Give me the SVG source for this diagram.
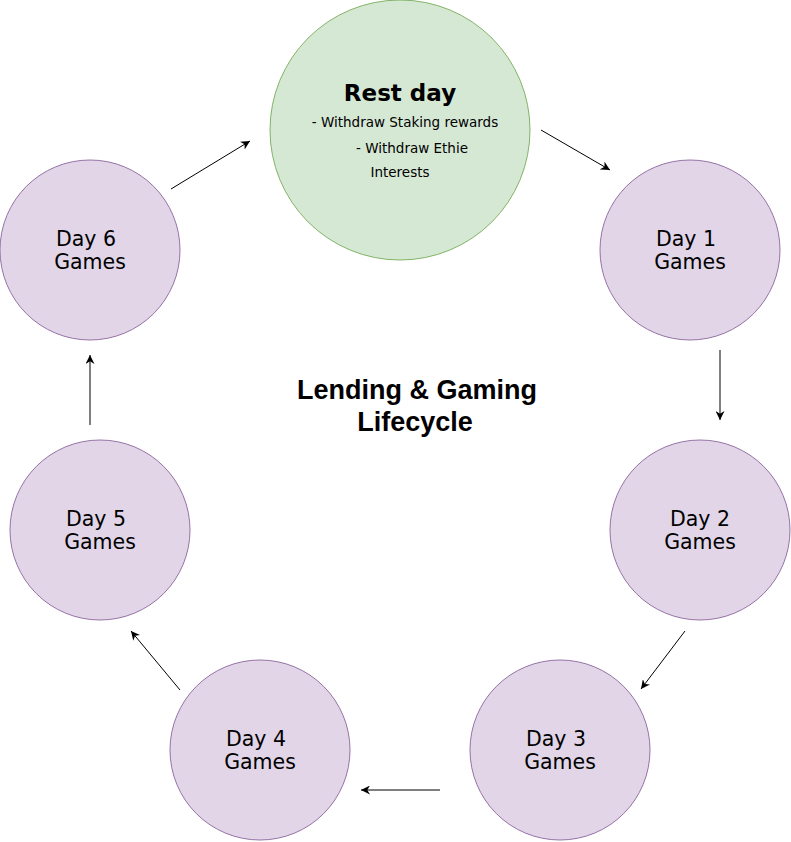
<svg xmlns="http://www.w3.org/2000/svg" width="791" height="842" viewBox="0 0 791 842">
<style>
.day{fill:#e1d5e7;stroke:#9673a6;stroke-width:1}
.rest{fill:#d5e8d4;stroke:#82b366;stroke-width:1}
.lbl{font-family:"DejaVu Sans",Verdana,sans-serif;font-size:20.5px;fill:#000;text-anchor:middle}
.sm{font-family:"DejaVu Sans",Verdana,sans-serif;font-size:13.5px;fill:#000;text-anchor:middle}
.rt{font-family:"DejaVu Sans",Verdana,sans-serif;font-size:23px;font-weight:bold;fill:#000;text-anchor:middle}
.ttl{font-family:"Liberation Sans",Arial,sans-serif;font-size:27px;font-weight:bold;fill:#000;text-anchor:middle}
.conn line{stroke:#000;stroke-width:1;marker-end:url(#ah)}
</style>
<defs>
<marker id="ah" viewBox="0 0 10 10" refX="10" refY="5" markerWidth="9" markerHeight="9" markerUnits="userSpaceOnUse" orient="auto">
<path d="M0,0 L10,5 L0,10 L3,5 z" fill="#000"/>
</marker>
</defs>
<rect width="791" height="842" fill="#fff"/>
<g id="rest">
<circle class="rest" cx="400" cy="130" r="130"/>
<text class="rt" x="400" y="101">Rest day</text>
<text class="sm" x="405" y="127">- Withdraw Staking rewards</text>
<text class="sm" x="412" y="153">- Withdraw Ethie</text>
<text class="sm" x="400" y="177">Interests</text>
</g>
<g id="day1">
<circle class="day" cx="690" cy="250" r="90"/>
<text class="lbl" x="686" y="246">Day 1</text>
<text class="lbl" x="690" y="269">Games</text>
</g>
<g id="day2">
<circle class="day" cx="700" cy="530" r="90"/>
<text class="lbl" x="700" y="526">Day 2</text>
<text class="lbl" x="700" y="549">Games</text>
</g>
<g id="day3">
<circle class="day" cx="560" cy="750" r="90"/>
<text class="lbl" x="556" y="746">Day 3</text>
<text class="lbl" x="560" y="769">Games</text>
</g>
<g id="day4">
<circle class="day" cx="260" cy="750" r="90"/>
<text class="lbl" x="256" y="746">Day 4</text>
<text class="lbl" x="260" y="769">Games</text>
</g>
<g id="day5">
<circle class="day" cx="100" cy="530" r="90"/>
<text class="lbl" x="96" y="526">Day 5</text>
<text class="lbl" x="100" y="549">Games</text>
</g>
<g id="day6">
<circle class="day" cx="90" cy="250" r="90"/>
<text class="lbl" x="86" y="246">Day 6</text>
<text class="lbl" x="90" y="269">Games</text>
</g>
<g id="title">
<text class="ttl" x="417" y="399">Lending &amp; Gaming</text>
<text class="ttl" x="415" y="431">Lifecycle</text>
</g>
<g id="connectors" class="conn">
<line x1="541" y1="130" x2="610" y2="170"/>
<line x1="720" y1="350" x2="720" y2="420"/>
<line x1="685" y1="631" x2="641" y2="689"/>
<line x1="440" y1="790" x2="361" y2="790"/>
<line x1="180" y1="690" x2="131" y2="631"/>
<line x1="90" y1="425" x2="90" y2="355"/>
<line x1="171" y1="189" x2="250" y2="141"/>
</g>
</svg>
